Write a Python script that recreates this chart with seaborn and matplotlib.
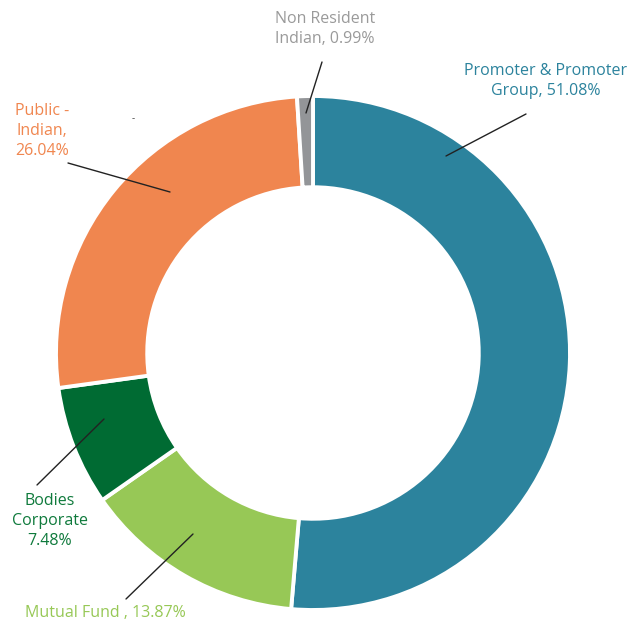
import matplotlib
matplotlib.use("Agg")
import matplotlib.pyplot as plt
import seaborn as sns

# Shareholding pattern (clockwise from top)
categories = ["Promoter & Promoter Group", "Mutual Fund", "Bodies Corporate",
              "Public - Indian", "Non Resident Indian"]
shares = [51.08, 13.87, 7.48, 26.04, 0.99]
slice_colors = ["#2C839D", "#97C856", "#006B33", "#F0864F", "#939598"]
label_colors = ["#2C839D", "#97C856", "#0F7A3C", "#F0864F", "#9A9A9A"]
label_texts = ["Promoter & Promoter\nGroup, 51.08%", "Mutual Fund , 13.87%",
               "Bodies\nCorporate\n7.48%", "Public -\nIndian,\n26.04%",
               "Non Resident\nIndian, 0.99%"]

sns.set_theme(style="white")
plt.rcParams['font.family'] = ['Open Sans', 'DejaVu Sans']

W, H = 632, 625
cx, cy, R = 313, 353, 257

fig = plt.figure(figsize=(W / 100, H / 100), dpi=100)
ax = fig.add_axes([0, 0, 1, 1])


def px(x, y):
    # pixel position (from top-left) to data coordinates
    return ((x - cx) / R, (cy - y) / R)


ax.pie(shares, colors=slice_colors, startangle=90, counterclock=False,
       radius=1.0, wedgeprops=dict(width=0.355, edgecolor="white", linewidth=2.8))

# label position, anchor on ring, line start near text
layout = [
    ((546, 81), (446, 156), (526, 114)),
    ((105, 613), (193, 534), (126, 599)),
    ((50, 521), (104, 419), (37, 485)),
    ((42, 131), (170, 192), (68, 163)),
    ((325, 29), (306, 113), (322, 62)),
]
for text, col, (tpos, anchor, start) in zip(label_texts, label_colors, layout):
    tx, ty = px(*tpos)
    ax.text(tx, ty, text, color=col, fontsize=11.5, ha="center", va="center",
            linespacing=1.3)
    ax.plot([px(*start)[0], px(*anchor)[0]], [px(*start)[1], px(*anchor)[1]],
            color="#222222", linewidth=1)

ax.text(*px(133, 119), "-", color="#444444", fontsize=7, ha="center", va="center")

ax.set_xlim(px(0, 0)[0], px(W, 0)[0])
ax.set_ylim(px(0, H)[1], px(0, 0)[1])
ax.set_aspect("equal")
ax.axis("off")

fig.savefig("out.png", dpi=100)
